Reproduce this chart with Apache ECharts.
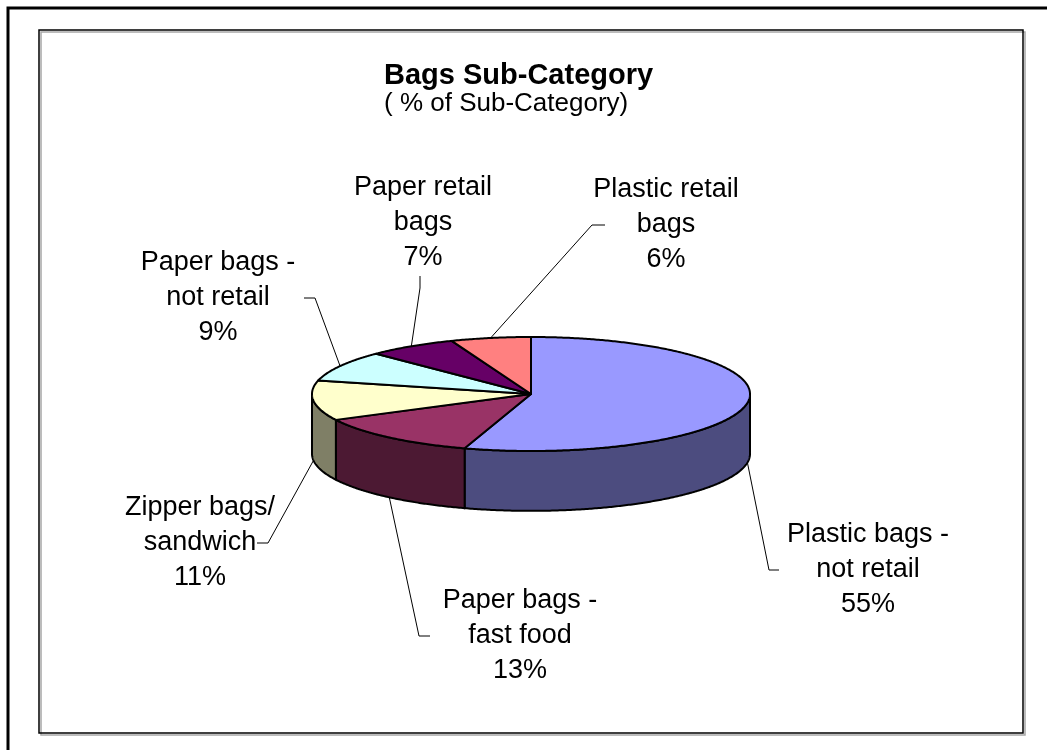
<!DOCTYPE html>
<html>
<head>
<meta charset="utf-8">
<script src="https://cdn.jsdelivr.net/npm/echarts@6/dist/echarts.min.js"></script>
<style>
  html, body { margin: 0; padding: 0; background: #ffffff; }
  #chart { width: 1047px; height: 750px; }
</style>
</head>
<body>
<div id="chart"></div>
<script>
// Sub-category names (label lines) and their shares of the bags category, in %
const categories = [
  'Plastic bags -\nnot retail',
  'Paper bags -\nfast food',
  'Zipper bags/\nsandwich',
  'Paper bags -\nnot retail',
  'Paper retail\nbags',
  'Plastic retail\nbags'
];
const shares = [54.9, 12.6, 11.3, 8.7, 6.6, 5.9];

// Face colours of each slice; the outer wall uses the same hue at half brightness
const topColors = ['#9999FF', '#993366', '#FFFFCC', '#CCFFFF', '#660066', '#FF8080'];

// Disc geometry: the grid box is the top ellipse, thickness is in units of the vertical radius
const disc = { left: 312, top: 337, width: 438, height: 114, thickness: 1.05 };

// Label placement: leader elbow, end of the short tail, and centre of the text block (pixels)
const labelSpots = [
  { elbow: [769, 570], tail: [779, 570], text: [868, 570] },
  { elbow: [419, 636], tail: [430, 636], text: [520, 636] },
  { elbow: [268, 543], tail: [257, 543], text: [200, 543] },
  { elbow: [315, 298], tail: [304, 298], text: [218, 298] },
  { elbow: [420, 288], tail: [420, 276], text: [423, 223] },
  { elbow: [592, 225], tail: [605, 225], text: [666, 225] }
];

const total = shares.reduce((a, b) => a + b, 0);
const startAt = [];
shares.reduce((acc, v) => { startAt.push(acc); return acc + v; }, 0);

function darken(hex) {
  const n = parseInt(hex.slice(1), 16);
  const r = ((n >> 16) & 255) >> 1, g = ((n >> 8) & 255) >> 1, b = (n & 255) >> 1;
  return 'rgb(' + r + ',' + g + ',' + b + ')';
}

function renderSlice(params, api) {
  const i = params.dataIndex;
  const value = api.value(2);
  const a0 = startAt[i] / total * 360;
  const a1 = a0 + value / total * 360;
  const rad = d => d * Math.PI / 180;
  // angle measured clockwise from 12 o'clock; drop lowers the point by the disc thickness
  const P = (deg, drop) => api.coord([Math.sin(rad(deg)), Math.cos(rad(deg)) - (drop || 0)]);

  const children = [];

  // outer wall: only the front half of the rim (90..270 deg) faces the viewer
  const w0 = Math.max(a0, 90), w1 = Math.min(a1, 270);
  if (w1 > w0) {
    const upper = [], lower = [];
    for (let d = w0; d < w1; d += 0.5) { upper.push(P(d)); lower.push(P(d, disc.thickness)); }
    upper.push(P(w1)); lower.push(P(w1, disc.thickness));
    children.push({
      type: 'polygon',
      shape: { points: upper.concat(lower.reverse()) },
      style: { fill: darken(topColors[i]), stroke: '#000', lineWidth: 2, lineJoin: 'round' }
    });
  }

  // top face
  const face = [api.coord([0, 0])];
  for (let d = a0; d < a1; d += 0.5) face.push(P(d));
  face.push(P(a1));
  children.push({
    type: 'polygon',
    shape: { points: face },
    style: { fill: topColors[i], stroke: '#000', lineWidth: 2, lineJoin: 'round' }
  });

  // leader line from the middle of the slice's rim
  const mid = (a0 + a1) / 2;
  const front = mid > 90 && mid < 270;
  const anchor = P(mid, front ? disc.thickness : 0);
  const spot = labelSpots[i];
  children.push({
    type: 'polyline',
    shape: { points: [anchor, spot.elbow, spot.tail] },
    style: { stroke: '#000', lineWidth: 1, fill: null }
  });

  children.push({
    type: 'text',
    style: {
      text: categories[i] + '\n' + Math.round(value / total * 100) + '%',
      x: spot.text[0],
      y: spot.text[1],
      align: 'center',
      verticalAlign: 'middle',
      fontFamily: 'Liberation Sans, Arial, sans-serif',
      fontSize: 27,
      lineHeight: 35,
      fill: '#000'
    }
  });

  return { type: 'group', children: children };
}

const chart = echarts.init(document.getElementById('chart'), null, { renderer: 'canvas' });

chart.setOption({
  backgroundColor: '#ffffff',
  animation: false,
  title: {
    text: 'Bags Sub-Category',
    subtext: '( % of Sub-Category)',
    left: 384,
    top: 61,
    itemGap: 1,
    padding: 0,
    textStyle: {
      fontFamily: 'Liberation Sans, Arial, sans-serif',
      fontWeight: 'bold',
      fontSize: 29,
      color: '#000'
    },
    subtextStyle: {
      fontFamily: 'Liberation Sans, Arial, sans-serif',
      fontSize: 26,
      color: '#000'
    }
  },
  graphic: [
    // outer frame (top and left edges)
    { type: 'polyline', shape: { points: [[8, 750], [8, 8], [1047, 8]] },
      style: { stroke: '#000', lineWidth: 3, fill: null }, z: 0 },
    // chart area box with a light drop shadow
    { type: 'rect', shape: { x: 39, y: 30, width: 984, height: 703 },
      style: { stroke: '#000', lineWidth: 1.5, fill: null,
               shadowColor: 'rgba(0,0,0,0.35)', shadowOffsetX: 2, shadowOffsetY: 2, shadowBlur: 0 },
      z: 0 }
  ],
  grid: { left: disc.left, top: disc.top, width: disc.width, height: disc.height, containLabel: false },
  xAxis: { type: 'value', min: -1, max: 1, show: false },
  yAxis: { type: 'value', min: -1, max: 1, show: false },
  series: [{
    type: 'custom',
    coordinateSystem: 'cartesian2d',
    clip: false,
    renderItem: renderSlice,
    encode: { x: 0, y: 1 },
    data: shares.map(v => [0, 0, v]),
    z: 2
  }]
});
</script>
</body>
</html>
